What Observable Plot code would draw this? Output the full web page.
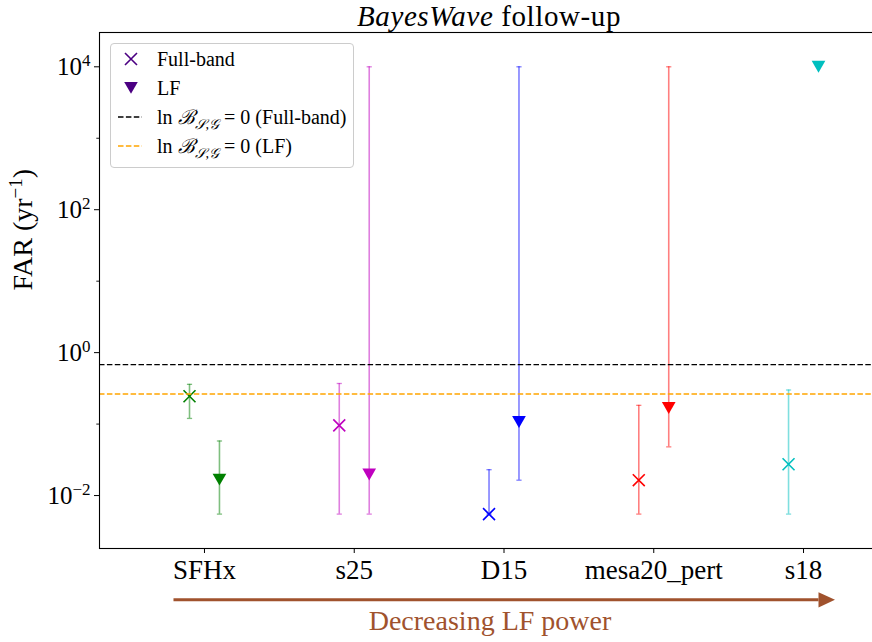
<!DOCTYPE html>
<html>
<head>
<meta charset="utf-8">
<script src="https://cdn.jsdelivr.net/npm/d3@7"></script>
<script src="https://cdn.jsdelivr.net/npm/@observablehq/plot@0.6"></script>
<style>
  html, body { margin: 0; padding: 0; background: #fff; }
  body { font-family: "Liberation Serif", "DejaVu Serif", serif; color: #000; overflow: hidden; }
  #wrap { position: relative; width: 872px; height: 642px; }
  #titlebar { position: relative; height: 28px; }
  #title { position: absolute; left: 489px; top: 2px; transform: translateX(-50%); white-space: nowrap;
           font-size: 29px; line-height: 28px; letter-spacing: 0.6px; }
  #chart svg { display: block; }
  #legend { position: absolute; left: 110px; top: 43px; width: 242px; height: 123px;
            border: 1px solid #cccccc; border-radius: 4px; background: rgba(255,255,255,0.8); }
  .row { position: absolute; left: 0; height: 24px; width: 100%; }
  .row svg { position: absolute; left: 6px; top: 0; }
  .row .lbl { position: absolute; left: 46px; top: 0; font-size: 20px; line-height: 24px; white-space: nowrap; }
  .sub { font-size: 14px; position: relative; top: 5px; font-style: italic; }
</style>
</head>
<body>
<div id="wrap">
  <div id="titlebar"><div id="title"><i>BayesWave</i> follow-up</div></div>
  <div id="chart"></div>
  <div id="legend"></div>
</div>
<script>
// ---------------- data ----------------
const categories = ["SFHx", "s25", "D15", "mesa20_pert", "s18"];
const seriesColors = ["#008000", "#bf00bf", "#0000ff", "#ff0000", "#00bfbf"];
const fullBandFAR   = [0.245, 0.096, 0.0055, 0.0164, 0.0274];
const fullBandLower = [0.12, 0.0055, 0.0055, 0.0055, 0.0055];
const fullBandUpper = [0.36, 0.37, 0.023, 0.183, 0.30];
const lfFAR   = [0.0167, 0.0197, 0.107, 0.168, 10000];
const lfLower = [0.0055, 0.0055, 0.0164, 0.048, null];
const lfUpper = [0.058, 10000, 10000, 10000, null];
const thresholdFullBand = 0.68;
const thresholdLF = 0.264;
const yMajorTicks = [1e-2, 1, 1e2, 1e4];
const yMinorTicks = [1e-1, 1e1, 1e3];
const legendLabels = ["Full-band", "LF", "(Full-band)", "(LF)"];
const arrowLabel = "Decreasing LF power";
const arrowSpan = [-0.207, 4.10];

// ---------------- layout constants ----------------
const xDomain = [-0.701, 4.514];
const yDomain = [Math.pow(10, -2.741), Math.pow(10, 4.48)];
const offset = 0.1;
const sienna = "#a0522d";
const legendColor = "#4b0082";

// ---------------- derived rows ----------------
const fbRows = categories.map((c, i) => ({ x: i - offset, y: fullBandFAR[i], lo: fullBandLower[i], hi: fullBandUpper[i], color: seriesColors[i] }));
const lfRows = categories.map((c, i) => ({ x: i + offset, y: lfFAR[i], lo: lfLower[i], hi: lfUpper[i], color: seriesColors[i] }));
const errRows = [...fbRows, ...lfRows].filter(d => d.lo != null && d.hi != null);

// ---------------- symbols ----------------
const capSymbol = { draw(ctx, size) { const r = Math.sqrt(size / Math.PI); ctx.moveTo(-r, 0); ctx.lineTo(r, 0); } };
const triDown = { draw(ctx, size) { const r = Math.sqrt(size / Math.PI); const h = 0.87 * r; ctx.moveTo(0, h); ctx.lineTo(-r, -h); ctx.lineTo(r, -h); ctx.closePath(); } };
const minorTick = { draw(ctx, size) { const r = Math.sqrt(size / Math.PI); ctx.moveTo(-r, 0); ctx.lineTo(0, 0); } };
const arrowHead = { draw(ctx, size) { const r = Math.sqrt(size / Math.PI); ctx.moveTo(0, -0.46 * r); ctx.lineTo(r, 0); ctx.lineTo(0, 0.46 * r); ctx.closePath(); } };

const arrowRows = [{ x1: arrowSpan[0], x2: arrowSpan[1] }];

const svg = Plot.plot({
  width: 872,
  height: 614,
  marginTop: 4,
  marginLeft: 99,
  marginRight: -8,
  marginBottom: 94,
  style: { fontFamily: "'Liberation Serif', 'DejaVu Serif', serif", fontSize: "27px", background: "transparent", color: "#000" },
  x: { domain: xDomain, ticks: [0, 1, 2, 3, 4], tickFormat: i => categories[i], tickSize: 5, tickPadding: 6, label: null },
  y: { type: "log", domain: yDomain, ticks: yMajorTicks, tickFormat: v => "10^" + Math.round(Math.log10(v)), tickSize: 5, tickPadding: 4, label: null },
  color: { type: "identity" },
  marks: [
    Plot.ruleX(errRows, { x: "x", y1: "lo", y2: "hi", stroke: "color", strokeOpacity: 0.5, strokeWidth: 1.6 }),
    Plot.dot(errRows, { x: "x", y: "lo", symbol: capSymbol, r: 2.6, stroke: "color", strokeOpacity: 0.5, strokeWidth: 1.3, fill: "none" }),
    Plot.dot(errRows, { x: "x", y: "hi", symbol: capSymbol, r: 2.6, stroke: "color", strokeOpacity: 0.5, strokeWidth: 1.3, fill: "none" }),
    Plot.dot(fbRows, { x: "x", y: "y", symbol: "times", r: 5.5, stroke: "color", strokeWidth: 1.6 }),
    Plot.dot(lfRows, { x: "x", y: "y", symbol: triDown, r: 6.85, fill: "color", stroke: "none" }),
    Plot.ruleY([thresholdFullBand], { stroke: "black", strokeWidth: 1.4, strokeDasharray: "5.5,2.4" }),
    Plot.ruleY([thresholdLF], { stroke: "#ffa500", strokeWidth: 1.4, strokeDasharray: "5.5,2.4" }),
    Plot.dot(yMinorTicks, { x: () => xDomain[0], y: d => d, symbol: minorTick, r: 3.2, stroke: "black", strokeWidth: 0.9, fill: "none" }),
    Plot.frame({ stroke: "black", strokeWidth: 1.1 }),
    Plot.link(arrowRows, { x1: "x1", x2: "x2", y1: () => yDomain[0], y2: () => yDomain[0], dy: 51.3, stroke: sienna, strokeWidth: 3 }),
    Plot.dot(arrowRows, { x: "x2", y: () => yDomain[0], dy: 51.3, symbol: arrowHead, r: 16.5, fill: sienna, stroke: "none" }),
    Plot.text([arrowLabel], { text: d => d, frameAnchor: "bottom", dy: 81, fill: sienna, fontSize: 28 }),
    Plot.text(["FAR (yr^−1)"], { text: d => d, frameAnchor: "left", rotate: -90, dx: -76, fontSize: 28 })
  ]
});

// superscripts
d3.select(svg).selectAll("text").each(function () {
  const t = this.textContent;
  let m = t.match(/^10\^(-?\d+)$/);
  if (m) {
    const e = m[1].replace("-", "−");
    const s = d3.select(this);
    s.text(null).attr("font-size", 25);
    s.append("tspan").text("10");
    s.append("tspan").attr("dy", -9).attr("font-size", 17).text(e);
    return;
  }
  m = t.match(/^(.*)\^(\S+?)(\))$/);
  if (m) {
    const s = d3.select(this);
    s.text(null);
    s.append("tspan").text(m[1]);
    s.append("tspan").attr("dy", -10).attr("font-size", 19).text(m[2]);
    s.append("tspan").attr("dy", 10).text(m[3]);
  }
});
document.getElementById("chart").appendChild(svg);

// legend
const legend = document.getElementById("legend");
const rowsTop = [3, 32, 61, 90];
const mathLabel = rest => `ln <i>ℬ</i><span class="sub">𝒮,𝒢</span> = 0 ${rest}`;
const legendItems = [
  { svg: `<svg width="28" height="24"><path d="M8,6L20,18M20,6L8,18" stroke="${legendColor}" stroke-width="1.6" fill="none"/></svg>`, label: legendLabels[0] },
  { svg: `<svg width="28" height="24"><path d="M7.2,6L20.8,6L14,17.8Z" fill="${legendColor}"/></svg>`, label: legendLabels[1] },
  { svg: `<svg width="28" height="24"><line x1="1" x2="25" y1="12" y2="12" stroke="black" stroke-width="1.4" stroke-dasharray="5.5,2.4"/></svg>`, label: mathLabel(legendLabels[2]) },
  { svg: `<svg width="28" height="24"><line x1="1" x2="25" y1="12" y2="12" stroke="#ffa500" stroke-width="1.4" stroke-dasharray="5.5,2.4"/></svg>`, label: mathLabel(legendLabels[3]) }
];
legendItems.forEach((it, k) => {
  const r = document.createElement("div");
  r.className = "row";
  r.style.top = rowsTop[k] + "px";
  r.innerHTML = it.svg + `<span class="lbl">${it.label}</span>`;
  legend.appendChild(r);
});
</script>
</body>
</html>
